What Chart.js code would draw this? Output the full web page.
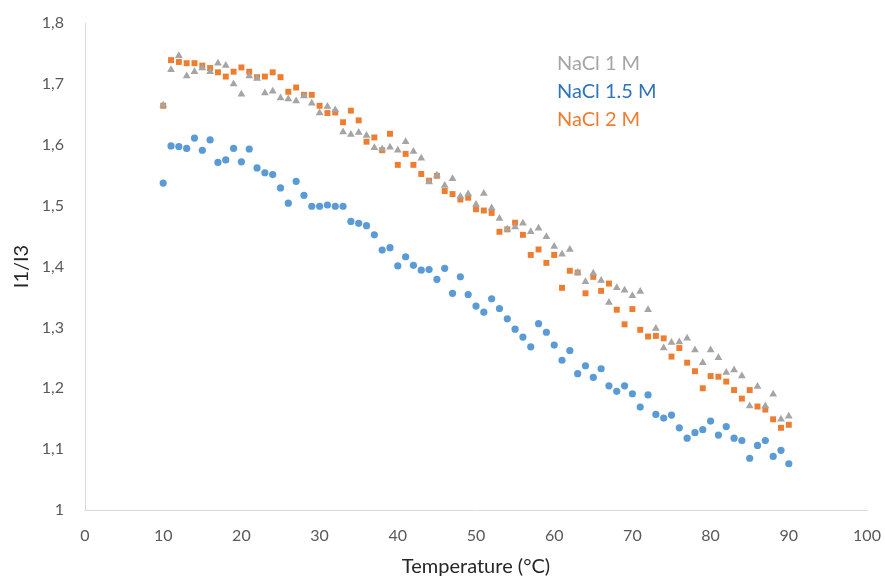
<!DOCTYPE html>
<html>
<head>
<meta charset="utf-8">
<script src="https://cdn.jsdelivr.net/npm/chart.js@4/dist/chart.umd.min.js"></script>
<style>
  html, body { margin: 0; padding: 0; background: #fff; }
  #wrap { width: 885px; height: 581px; }
</style>
</head>
<body>
<div id="wrap"><canvas id="myChart" width="885" height="581"></canvas></div>
<script>
var ctx = document.getElementById("myChart").getContext("2d");

const temps = [10, 11, 12, 13, 14, 15, 16, 17, 18, 19, 20, 21, 22, 23, 24, 25, 26, 27, 28, 29,
  30, 31, 32, 33, 34, 35, 36, 37, 38, 39, 40, 41, 42, 43, 44, 45, 46, 47, 48, 49,
  50, 51, 52, 53, 54, 55, 56, 57, 58, 59, 60, 61, 62, 63, 64, 65, 66, 67, 68, 69,
  70, 71, 72, 73, 74, 75, 76, 77, 78, 79, 80, 81, 82, 83, 84, 85, 86, 87, 88, 89, 90];

const nacl1M = [1.665, 1.723, 1.746, 1.713, 1.720, 1.726, 1.720, 1.734, 1.730, 1.700,
  1.683, 1.713, 1.709, 1.685, 1.688, 1.677, 1.675, 1.672, 1.680, 1.668,
  1.652, 1.663, 1.657, 1.621, 1.617, 1.620, 1.615, 1.595, 1.593, 1.596,
  1.591, 1.605, 1.589, 1.578, 1.539, 1.550, 1.533, 1.544, 1.515, 1.519,
  1.502, 1.520, 1.496, 1.479, 1.461, 1.465, 1.471, 1.457, 1.463, 1.449,
  1.433, 1.420, 1.428, 1.390, 1.375, 1.389, 1.377, 1.341, 1.365, 1.361,
  1.352, 1.359, 1.329, 1.298, 1.266, 1.275, 1.276, 1.282, 1.263, 1.242,
  1.263, 1.250, 1.226, 1.230, 1.220, 1.171, 1.203, 1.171, 1.190, 1.149, 1.154];

const nacl15M = [1.537, 1.598, 1.597, 1.594, 1.611, 1.591, 1.608, 1.571, 1.575, 1.594,
  1.572, 1.593, 1.562, 1.554, 1.551, 1.529, 1.504, 1.540, 1.517, 1.499,
  1.499, 1.501, 1.499, 1.499, 1.474, 1.471, 1.467, 1.452, 1.427, 1.431,
  1.401, 1.416, 1.402, 1.394, 1.395, 1.379, 1.397, 1.356, 1.383, 1.354,
  1.335, 1.325, 1.347, 1.331, 1.314, 1.297, 1.284, 1.268, 1.306, 1.292,
  1.271, 1.246, 1.262, 1.224, 1.237, 1.218, 1.232, 1.204, 1.195, 1.204,
  1.191, 1.169, 1.189, 1.157, 1.151, 1.156, 1.135, 1.118, 1.127, 1.132,
  1.146, 1.123, 1.137, 1.118, 1.114, 1.085, 1.106, 1.114, 1.088, 1.098, 1.076];

const nacl2M = [1.664, 1.739, 1.736, 1.734, 1.734, 1.730, 1.726, 1.719, 1.712, 1.720,
  1.727, 1.720, 1.711, 1.712, 1.719, 1.711, 1.687, 1.694, 1.682, 1.682,
  1.664, 1.652, 1.653, 1.637, 1.656, 1.640, 1.605, 1.612, 1.591, 1.618,
  1.567, 1.585, 1.567, 1.552, 1.541, 1.549, 1.524, 1.519, 1.510, 1.513,
  1.494, 1.492, 1.488, 1.457, 1.461, 1.472, 1.452, 1.419, 1.428, 1.406,
  1.419, 1.365, 1.393, 1.390, 1.356, 1.383, 1.360, 1.372, 1.329, 1.305,
  1.330, 1.296, 1.285, 1.286, 1.282, 1.252, 1.266, 1.242, 1.228, 1.200,
  1.220, 1.219, 1.211, 1.197, 1.183, 1.197, 1.170, 1.165, 1.149, 1.135, 1.140];

const seriesNames = ["NaCl 1 M", "NaCl 1.5 M", "NaCl 2 M"];
const legendColors = ["#a5a5a5", "#2e75b6", "#ed7d31"];

function toPoints(values) {
  return values.map((v, i) => ({ x: temps[i], y: v }));
}

// legend sits inside the plot, text only, coloured like the series
const textLegend = {
  id: "textLegend",
  afterDatasetsDraw(chart, args, opts) {
    const c = chart.ctx;
    c.save();
    c.font = opts.font;
    c.textBaseline = "middle";
    c.textAlign = "left";
    seriesNames.forEach((name, i) => {
      c.fillStyle = legendColors[i];
      c.fillText(name, opts.x, opts.y + i * opts.step);
    });
    c.restore();
  },
};

Chart.defaults.font.family = "Lato, 'Open Sans', sans-serif";

new Chart(ctx, {
  type: "scatter",
  data: {
    datasets: [
      {
        label: seriesNames[0],
        data: toPoints(nacl1M),
        pointStyle: "triangle",
        pointRadius: 4.5,
        backgroundColor: "#a5a5a5",
        borderColor: "#a5a5a5",
        borderWidth: 0,
      },
      {
        label: seriesNames[1],
        data: toPoints(nacl15M),
        pointStyle: "circle",
        pointRadius: 3.6,
        backgroundColor: "#5b9bd5",
        borderColor: "#5b9bd5",
        borderWidth: 0,
      },
      {
        label: seriesNames[2],
        data: toPoints(nacl2M),
        pointStyle: "rect",
        pointRadius: 4.2,
        backgroundColor: "#ed7d31",
        borderColor: "#ed7d31",
        borderWidth: 0,
      },
    ],
  },
  options: {
    responsive: false,
    animation: false,
    layout: { padding: { top: 23, right: 18, left: 0, bottom: 0 } },
    plugins: {
      legend: { display: false },
      tooltip: { enabled: false },
      textLegend: { x: 557, y: 64, step: 28, font: "20px Lato, 'Open Sans', sans-serif" },
    },
    scales: {
      x: {
        type: "linear",
        min: 0,
        max: 100,
        ticks: { stepSize: 10, color: "#595959", font: { size: 16 }, padding: 16 },
        grid: { display: false, drawTicks: false },
        border: { display: true, color: "#d9d9d9", width: 1 },
        title: {
          display: true,
          text: "Temperature (°C)",
          color: "#262626",
          font: { size: 20 },
          padding: { top: 4, bottom: 2 },
        },
        afterFit(scale) {
          scale.height = 71;
          scale.paddingLeft = 0;
          scale.paddingRight = 0;
        },
      },
      y: {
        min: 1,
        max: 1.8,
        ticks: {
          stepSize: 0.1,
          color: "#595959",
          font: { size: 16 },
          padding: 21,
          callback(value) {
            return Number(value.toFixed(1)).toString().replace(".", ",");
          },
        },
        grid: { display: false, drawTicks: false },
        border: { display: true, color: "#d9d9d9", width: 1 },
        title: {
          display: true,
          text: "I1/I3",
          color: "#262626",
          font: { size: 20 },
          padding: { top: 10, bottom: 4 },
        },
        afterFit(scale) {
          scale.width = 85;
          scale.paddingTop = 0;
          scale.paddingBottom = 0;
        },
      },
    },
  },
  plugins: [textLegend],
});
</script>
</body>
</html>
